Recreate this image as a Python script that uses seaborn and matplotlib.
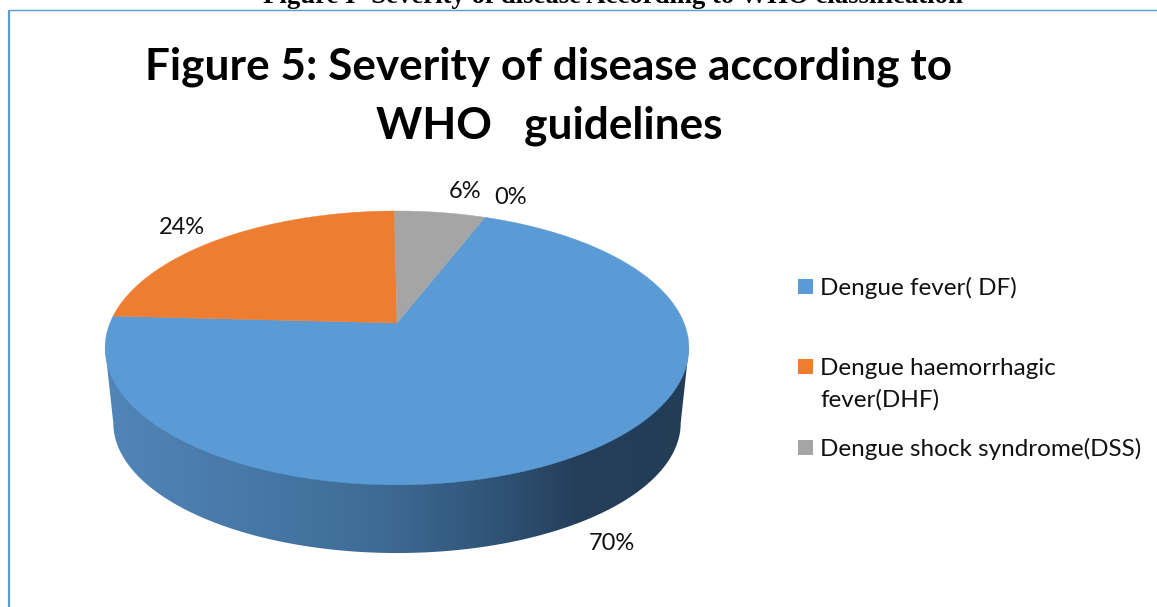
import numpy as np
import matplotlib
matplotlib.use("Agg")
import matplotlib.pyplot as plt
from matplotlib.colors import LinearSegmentedColormap
from matplotlib.patches import Polygon, Rectangle
import seaborn as sns

# Chart content
categories = ["Dengue fever( DF)", "Dengue haemorrhagic\nfever(DHF)", "Dengue shock syndrome(DSS)"]
shares = [70, 24, 6]
empty_share = 0
page_heading = "Figure I- Severity of disease According to WHO classification"
chart_title = "Figure 5: Severity of disease according to\nWHO   guidelines"

sns.set_theme(style="white")
plt.rcParams["font.family"] = ["Lato", "DejaVu Sans"]
slice_colors = sns.color_palette(["#5B9BD5", "#ED7D31", "#A5A5A5"])
border_color = "#5B9BD5"

W, H = 1157, 607
fig = plt.figure(figsize=(W / 100, H / 100), dpi=100, facecolor="white")
ax = fig.add_axes([0, 0, 1, 1])
ax.set_xlim(0, W)
ax.set_ylim(H, 0)
ax.axis("off")

# Tilted disc: a circle seen in perspective
TIP_X, TIP_Y = 397, 323
PERSP, SCALE_X, SCALE_Y = 0.182, 287.0, 132.4
FIRST_SLICE_DEG = 21.0


def rim(theta_deg):
    t = np.radians(theta_deg)
    u, v = np.sin(t), np.cos(t)
    d = 1 + PERSP * v
    return TIP_X + SCALE_X * u / d, TIP_Y - SCALE_Y * v / d


# Side wall: the rim shifted downward and shrunk slightly
WALL_DROP, WALL_SX, WALL_SY, RIM_CY = 75, 0.972, 0.95, 348


def lower_rim(theta_deg):
    x, y = rim(theta_deg)
    return TIP_X + (x - TIP_X) * WALL_SX, RIM_CY + WALL_DROP + (y - RIM_CY) * WALL_SY


th = np.linspace(0, 360, 721)
xt, yt = rim(th)
xb, yb = lower_rim(th)
i_r, i_l = np.argmax(xt), np.argmin(xt)
j_r, j_l = np.argmax(xb), np.argmin(xb)
wall_x = np.r_[xt[i_r], xb[j_r:j_l + 1], xt[i_l]]
wall_y = np.r_[yt[i_r], yb[j_r:j_l + 1], yt[i_l]]
wall = Polygon(np.c_[wall_x, wall_y], closed=True, fc="none", ec="none")
ax.add_patch(wall)

wall_cmap = LinearSegmentedColormap.from_list(
    "wall", [(0, "#5286B9"), (0.45, "#3F6D97"), (0.65, "#31567A"), (0.8, "#253F5B"), (1, "#233D57")]
)
shade = ax.imshow(
    np.linspace(0, 1, 600)[None, :], cmap=wall_cmap, aspect="auto",
    extent=(100, 695, 560, 340), zorder=1,
)
shade.set_clip_path(wall)
ax.set_xlim(0, W)
ax.set_ylim(H, 0)

# Top face, one wedge per share, clockwise from the first-slice angle
start = FIRST_SLICE_DEG
for value, color in zip(shares, slice_colors):
    sweep = 360 * value / sum(shares)
    a = np.linspace(start, start + sweep, 300)
    rx, ry = rim(a)
    pts = np.r_[[[TIP_X, TIP_Y]], np.c_[rx, ry]]
    ax.add_patch(Polygon(pts, closed=True, fc=color, ec=color, lw=0.3, zorder=2))
    start += sweep

# Data labels
label_pos = [(612, 543), (182, 228), (465, 192)]
for value, (lx, ly) in zip(shares, label_pos):
    ax.text(lx, ly, f"{value}%", fontsize=17, color="#111111", ha="center", va="center")
ax.text(511, 197, f"{empty_share}%", fontsize=17, color="#111111", ha="center", va="center")

# Legend
swatch_tops = [279, 359, 440]
text_baselines = [295, 375, 456]
for cat, color, top, base in zip(categories, slice_colors, swatch_tops, text_baselines):
    ax.add_patch(Rectangle((798, top), 15, 15, fc=color, ec="none"))
    first, *rest = cat.split("\n")
    ax.text(820, base, first, fontsize=17.5, color="#111111", va="baseline")
    for extra in rest:
        ax.text(820, base + 32, extra, fontsize=17.5, color="#111111", va="baseline")

# Chart title
ax.text(549, 96, chart_title, fontsize=31.8, fontweight="bold", color="black",
        ha="center", va="center", linespacing=1.55)

# Page heading, cut by the top edge of the page
ax.text(613, 3, page_heading, fontsize=19.3, fontweight="bold", color="black",
        family="Liberation Serif", ha="center", va="baseline", clip_on=True)

# Chart frame
ax.plot([9, 9], [10, H], color=border_color, lw=1.6, solid_capstyle="butt", zorder=3)
ax.plot([9, W], [10, 10], color=border_color, lw=1.0, solid_capstyle="butt", zorder=3)

fig.savefig("out.png", dpi=100, facecolor="white")
